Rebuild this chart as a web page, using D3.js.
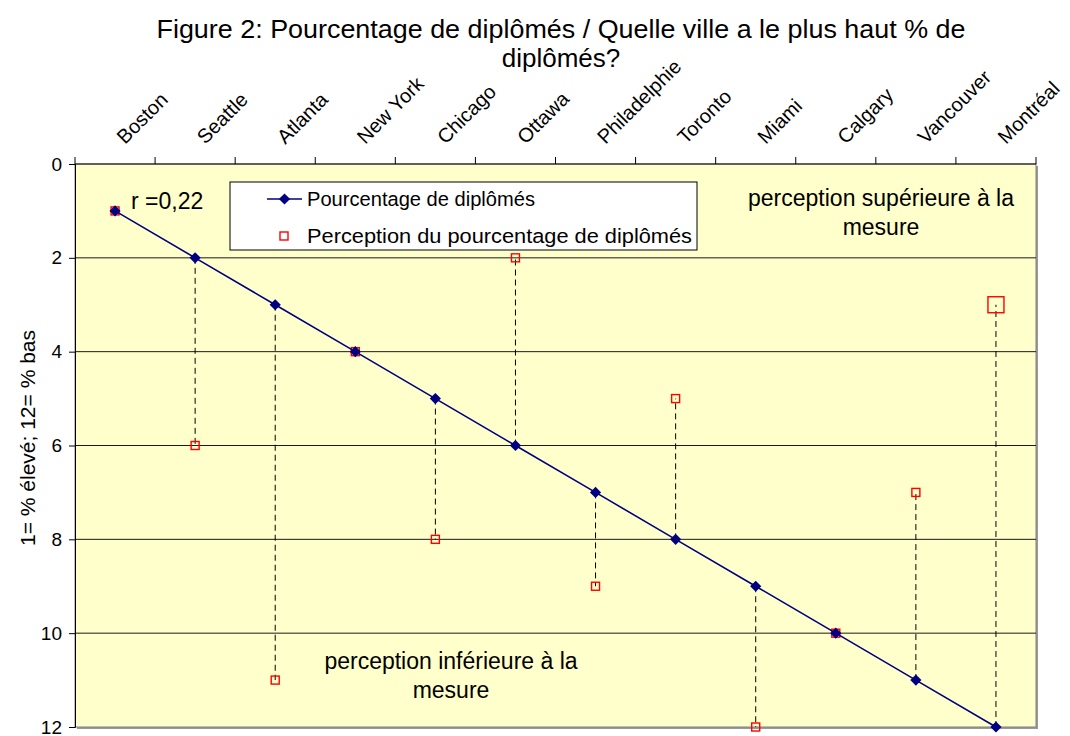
<!DOCTYPE html>
<html>
<head>
<meta charset="utf-8">
<script src="https://cdn.jsdelivr.net/npm/d3@7"></script>
<style>
  body { margin: 0; background: #fff; }
  text { font-family: "Liberation Sans", Arial, sans-serif; }
</style>
</head>
<body>
<div id="chart"></div>
<script>
// Data
const cities = ["Boston", "Seattle", "Atlanta", "New York", "Chicago", "Ottawa",
                "Philadelphie", "Toronto", "Miami", "Calgary", "Vancouver", "Montréal"];
const rangMesure = [1, 2, 3, 4, 5, 6, 7, 8, 9, 10, 11, 12];
const rangPercu = [1, 6, 11, 4, 8, 2, 9, 5, 12, 10, 7, 3];
const yTicks = [0, 2, 4, 6, 8, 10, 12];

const W = 1070, H = 736;
const m = { left: 75, right: 1036, top: 164, bottom: 727 };

const svg = d3.select("#chart").append("svg")
    .attr("width", W).attr("height", H);

const x = d3.scaleBand().domain(cities).range([m.left, m.right]);
const y = d3.scaleLinear().domain([0, 12]).range([m.top, m.bottom]);
const cx = d => x(d) + x.bandwidth() / 2;

// plot background
svg.append("rect")
    .attr("x", m.left + 2).attr("y", m.top + 2)
    .attr("width", m.right - m.left).attr("height", m.bottom - m.top)
    .attr("fill", "#9a9a9a");
svg.append("rect")
    .attr("x", m.left).attr("y", m.top)
    .attr("width", m.right - m.left).attr("height", m.bottom - m.top)
    .attr("fill", "#ffffcc").attr("stroke", "#808080");

// gridlines
svg.append("g").selectAll("line")
    .data(yTicks.filter(t => t > 0 && t < 12))
    .join("line")
    .attr("x1", m.left).attr("x2", m.right)
    .attr("y1", d => y(d)).attr("y2", d => y(d))
    .attr("stroke", "#1a1a1a").attr("stroke-width", 1);

// left axis
const yAxis = svg.append("g")
    .attr("transform", `translate(${m.left},0)`)
    .call(d3.axisLeft(y).tickValues(yTicks).tickSize(6).tickPadding(7));
yAxis.attr("font-size", 19);
yAxis.selectAll("text").attr("fill", "#000")
    .style("font-family", "Liberation Sans, Arial, sans-serif");
yAxis.selectAll("line, path").attr("stroke", "#000");

// top axis (ticks at category boundaries)
const topG = svg.append("g");
topG.append("line")
    .attr("x1", m.left).attr("x2", m.right)
    .attr("y1", m.top).attr("y2", m.top).attr("stroke", "#000");
topG.selectAll("line.tk")
    .data(cities.map(c => x(c)).concat([m.right]))
    .join("line").attr("class", "tk")
    .attr("x1", d => d).attr("x2", d => d)
    .attr("y1", m.top - 7).attr("y2", m.top).attr("stroke", "#000");
topG.selectAll("text")
    .data(cities)
    .join("text")
    .attr("transform", d => `translate(${cx(d) + 10},${m.top - 19}) rotate(-45)`)
    .attr("font-size", 20)
    .text(d => d);

// dashed connectors
svg.append("g").selectAll("line")
    .data(cities)
    .join("line")
    .attr("x1", d => cx(d)).attr("x2", d => cx(d))
    .attr("y1", (d, i) => y(rangMesure[i]))
    .attr("y2", (d, i) => y(rangPercu[i]))
    .attr("stroke", "#000").attr("stroke-dasharray", "6,4");

// perception markers
svg.append("g").selectAll("rect")
    .data(cities)
    .join("rect")
    .each(function (d, i) {
        const s = d === "Montréal" ? 16 : 8;
        d3.select(this)
            .attr("x", cx(d) - s / 2).attr("y", y(rangPercu[i]) - s / 2)
            .attr("width", s).attr("height", s);
    })
    .attr("fill", "none").attr("stroke", "#ff0000").attr("stroke-width", 1.4);

// measured line
svg.append("path")
    .datum(cities)
    .attr("d", d3.line().x(d => cx(d)).y((d, i) => y(rangMesure[i])))
    .attr("fill", "none").attr("stroke", "#000080").attr("stroke-width", 1.6);

const diamond = d3.symbol().type(d3.symbolDiamond2).size(80);
svg.append("g").selectAll("path")
    .data(cities)
    .join("path")
    .attr("transform", (d, i) => `translate(${cx(d)},${y(rangMesure[i])})`)
    .attr("d", diamond)
    .attr("fill", "#000080");

// legend
const lg = svg.append("g");
lg.append("rect")
    .attr("x", 230).attr("y", 182).attr("width", 467).attr("height", 68)
    .attr("fill", "#fff").attr("stroke", "#000");
lg.append("line")
    .attr("x1", 267).attr("x2", 302).attr("y1", 199).attr("y2", 199)
    .attr("stroke", "#000080").attr("stroke-width", 1.6);
lg.append("path").attr("d", diamond)
    .attr("transform", "translate(284.5,199)").attr("fill", "#000080");
lg.append("rect")
    .attr("x", 280).attr("y", 232).attr("width", 8).attr("height", 8)
    .attr("fill", "none").attr("stroke", "#ff0000").attr("stroke-width", 1.4);
lg.append("text").attr("x", 307).attr("y", 206).attr("font-size", 20.5)
    .attr("textLength", 228).attr("lengthAdjust", "spacingAndGlyphs")
    .text("Pourcentage de diplômés");
lg.append("text").attr("x", 307).attr("y", 243).attr("font-size", 20.5)
    .attr("textLength", 385).attr("lengthAdjust", "spacingAndGlyphs")
    .text("Perception du pourcentage de diplômés");

// annotations
svg.append("text").attr("x", 131).attr("y", 209).attr("font-size", 23)
    .text("r =0,22");
const ann = (lines, xc, y0) => {
    lines.forEach((t, i) => svg.append("text")
        .attr("x", xc).attr("y", y0 + i * 29)
        .attr("text-anchor", "middle").attr("font-size", 23).text(t));
};
ann(["perception supérieure à la", "mesure"], 881, 206);
ann(["perception inférieure à la", "mesure"], 451, 669);

// title
svg.append("text").attr("x", 561).attr("y", 38)
    .attr("text-anchor", "middle").attr("font-size", 26)
    .attr("textLength", 809).attr("lengthAdjust", "spacingAndGlyphs")
    .text("Figure 2: Pourcentage de diplômés / Quelle ville a le plus haut % de");
svg.append("text").attr("x", 561).attr("y", 67)
    .attr("text-anchor", "middle").attr("font-size", 26)
    .text("diplômés?");

// y axis title
svg.append("text")
    .attr("transform", "translate(35,438) rotate(-90)")
    .attr("text-anchor", "middle").attr("font-size", 21)
    .text("1=  % élevé; 12= % bas");
</script>
</body>
</html>
